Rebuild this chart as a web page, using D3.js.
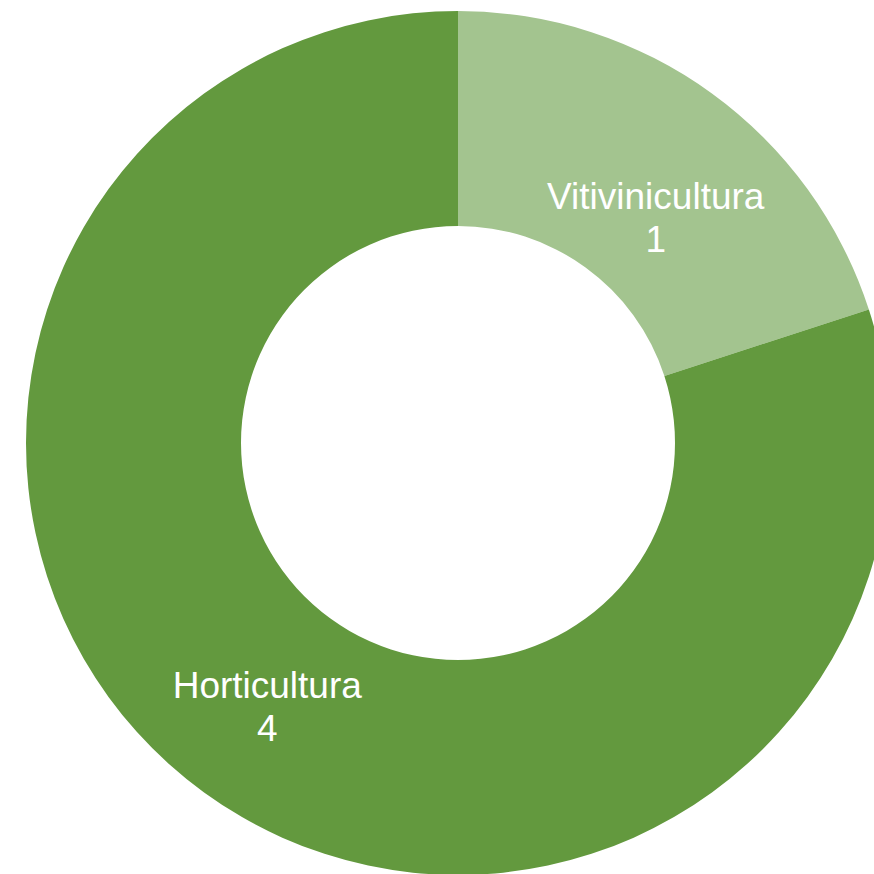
<!DOCTYPE html>
<html>
<head>
<meta charset="utf-8">
<script src="https://cdn.jsdelivr.net/npm/d3@7"></script>
<style>
	body { margin: 0; background: #ffffff; }
	svg { display: block; }
	.lbl { font-family: "Liberation Sans", Arial, sans-serif; font-size: 37px; fill: #ffffff; }
</style>
</head>
<body>
<div id="chart"></div>
<script>
// chart values
var categories= ["Vitivinicultura", "Horticultura"];
var values= [1, 4];
var colors= ["#a3c48f", "#63993e"];

function draw_donut() {

	var width= 874, height= 874;
	var cx= 458, cy= 443;
	var outer= 432, inner= 217;

	var svg= d3.select("#chart")
		.append("svg")
		.attr("width", width)
		.attr("height", height);

	var g= svg.append("g")
		.attr("transform", "translate(" + cx + "," + cy + ")");

	var data= categories.map(function(c, i) { return {name: c, value: values[i], color: colors[i]}; });

	var pie= d3.pie()
		.sort(null)
		.value(function(d) { return d.value; });

	var arc= d3.arc()
		.innerRadius(inner)
		.outerRadius(outer);

	var arcs= pie(data);

	g.selectAll("path")
		.data(arcs)
		.enter()
		.append("path")
			.attr("d", arc)
			.attr("fill", function(d) { return d.data.color; });

	// excel "best fit" pulls the small slice label inward a bit
	var nudge= [[7, 37], [0, 0]];

	var lbl= g.selectAll("text.lbl")
		.data(arcs)
		.enter()
		.append("text")
			.attr("class", "lbl")
			.style("text-anchor", "middle")
			.attr("transform", function(d, i) {
				var c= arc.centroid(d);
				return "translate(" + (c[0]+ nudge[i][0]) + "," + (c[1]+ nudge[i][1]) + ")";
			});

	lbl.append("tspan")
		.attr("x", 0)
		.attr("y", -8)
		.text(function(d) { return d.data.name; });

	lbl.append("tspan")
		.attr("x", 0)
		.attr("y", 35)
		.text(function(d) { return d.data.value; });
};

draw_donut();
</script>
</body>
</html>
